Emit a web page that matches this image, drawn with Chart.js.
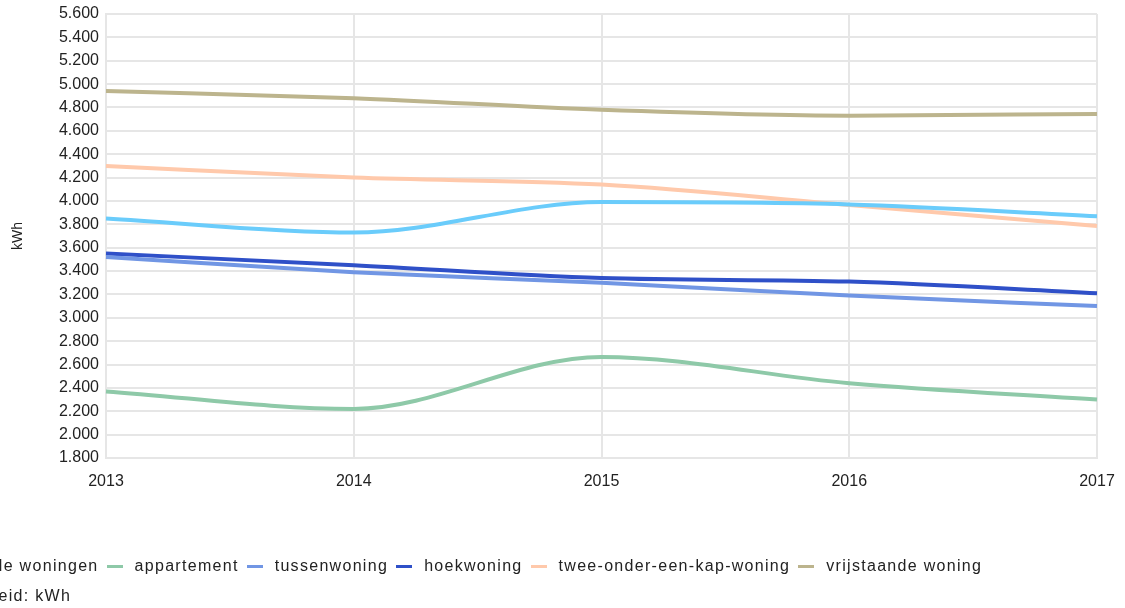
<!DOCTYPE html>
<html>
<head>
<meta charset="utf-8">
<script src="https://cdn.jsdelivr.net/npm/chart.js@4.4.1/dist/chart.umd.min.js"></script>
<style>
  body { margin: 0; background: #fff; overflow: hidden; font-family: "Liberation Sans", Arial, sans-serif; }
  #wrap { position: relative; width: 1125px; height: 608px; }
  #legend { position: absolute; left: -46px; top: 556px; display: flex; align-items: center; white-space: nowrap;
            font-size: 16px; letter-spacing: 1.3px; color: #222; height: 20px; }
  #legend .item { display: flex; align-items: center; margin-right: 8px; }
  #legend .swatch { width: 16px; height: 3px; margin-right: 12px; }
  #unit { position: absolute; left: -44px; top: 587px; font-size: 16px; letter-spacing: 1.3px; color: #222; white-space: nowrap; }
</style>
</head>
<body>
<div id="wrap">
  <canvas id="chart" width="1125" height="608"></canvas>
  <div id="legend"></div>
  <div id="unit">Eenheid: kWh</div>
</div>
<script>
// Jaren (x-as)
const years = ['2013', '2014', '2015', '2016', '2017'];

// Gemiddeld elektriciteitsverbruik per woningtype (kWh)
const alleWoningen = [3850, 3730, 3990, 3970, 3870];
const appartement = [2370, 2220, 2665, 2440, 2300];
const tussenwoning = [3520, 3390, 3300, 3190, 3100];
const hoekwoning = [3550, 3450, 3340, 3310, 3210];
const tweeOnderEenKap = [4300, 4200, 4140, 3965, 3785];
const vrijstaand = [4940, 4880, 4780, 4730, 4745];

const seriesNames = ['Alle woningen', 'appartement', 'tussenwoning', 'hoekwoning', 'twee-onder-een-kap-woning', 'vrijstaande woning'];
const seriesColors = ['#6accfb', '#8ec9a8', '#7196e4', '#2f50c8', '#ffc9ab', '#bcb48d'];
const seriesValues = [alleWoningen, appartement, tussenwoning, hoekwoning, tweeOnderEenKap, vrijstaand];

// y-as
const yMin = 1800;
const yMax = 5600;
const yStep = 200;

// 5600 -> "5.600"
function formatNumber(v) {
  return String(v).replace(/\B(?=(\d{3})+(?!\d))/g, '.');
}

const datasets = seriesNames.map((name, i) => ({
  label: name,
  data: seriesValues[i],
  borderColor: seriesColors[i],
  backgroundColor: seriesColors[i],
  borderWidth: 4,
  pointRadius: 0,
  cubicInterpolationMode: 'monotone',
  fill: false
}));

const ctx = document.getElementById('chart').getContext('2d');
new Chart(ctx, {
  type: 'line',
  data: { labels: years, datasets: datasets },
  options: {
    responsive: false,
    animation: false,
    layout: { padding: { top: 14, right: 28, bottom: 110, left: 0 } },
    plugins: {
      legend: { display: false },
      tooltip: { enabled: false }
    },
    scales: {
      x: {
        offset: false,
        grid: { color: '#e6e6e6', lineWidth: 2, drawTicks: false },
        border: { color: '#e6e6e6', width: 2 },
        ticks: {
          color: '#222',
          padding: 14,
          maxRotation: 0,
          font: { family: 'Liberation Sans', size: 16 }
        },
        afterFit: function(scale) {
          scale.height = 40;
          scale.paddingLeft = 0;
          scale.paddingRight = 0;
        }
      },
      y: {
        min: yMin,
        max: yMax,
        grid: { color: '#e6e6e6', lineWidth: 2, drawTicks: false },
        border: { color: '#e6e6e6', width: 2 },
        ticks: {
          stepSize: yStep,
          color: '#222',
          padding: 7,
          font: { family: 'Liberation Sans', size: 16 },
          callback: function(value) { return formatNumber(value); }
        },
        title: {
          display: true,
          text: 'kWh',
          color: '#222',
          padding: { top: 10, bottom: 0 },
          font: { family: 'Liberation Sans', size: 14 }
        },
        afterFit: function(scale) {
          scale.width = 106;
          scale.paddingTop = 0;
          scale.paddingBottom = 0;
        }
      }
    }
  }
});

// Legenda onder de grafiek
const legend = document.getElementById('legend');
seriesNames.forEach((name, i) => {
  const item = document.createElement('div');
  item.className = 'item';
  const swatch = document.createElement('span');
  swatch.className = 'swatch';
  swatch.style.background = seriesColors[i];
  const text = document.createElement('span');
  text.textContent = name;
  item.appendChild(swatch);
  item.appendChild(text);
  legend.appendChild(item);
});
</script>
</body>
</html>
